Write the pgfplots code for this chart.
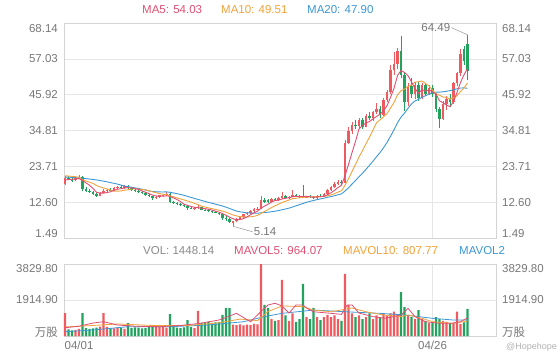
\documentclass[border=0pt]{standalone}
\usepackage{fontspec}
\setmainfont{Liberation Sans}
\newfontfamily\cjk{Noto Sans CJK SC}
\usepackage{pgfplots}
\usepackage{pgfplotstable}
\pgfplotsset{compat=1.18}
\definecolor{upc}{HTML}{EE5A5F}
\definecolor{dnc}{HTML}{21A35E}
\definecolor{ma5c}{HTML}{DE4F72}
\definecolor{ma10c}{HTML}{F1A23B}
\definecolor{ma20c}{HTML}{3C98D4}
\definecolor{gridc}{HTML}{E6E6E6}
\definecolor{axc}{HTML}{D4D4D4}
\definecolor{tickc}{HTML}{777777}
\definecolor{volc}{HTML}{8A8A8A}
\newcommand\fs{\fontsize{11.5}{13}\selectfont}

\pgfplotstableread{
x o h l c v
0 18.2 20.6 17.8 20.0 1220
3 19.4 20.4 19.2 20.1 320
4 20.1 21.0 19.8 20.5 380
10 14.6 15.8 14.4 15.5 500
11 15.5 16.6 15.3 16.2 1220
12 16.2 16.8 15.8 16.5 480
14 16.3 17.2 16.0 16.9 400
15 16.9 17.6 16.6 17.2 450
17 17.0 18.0 16.8 17.6 380
26 13.8 14.6 13.6 14.3 520
27 14.3 14.9 14.0 14.7 480
28 14.7 15.2 14.4 14.9 500
29 14.9 15.6 14.6 15.2 450
37 10.6 11.0 10.3 10.8 420
38 10.8 11.6 10.5 11.1 1330
48 6.2 6.9 5.14 6.7 600
49 6.7 7.6 6.4 7.3 580
50 7.3 8.4 7.0 8.1 620
51 8.1 9.0 7.8 8.8 560
52 8.8 9.6 8.5 9.3 600
53 9.3 10.2 9.0 9.9 580
54 9.9 10.8 9.6 10.4 640
55 10.4 11.0 10.1 10.6 620
56 10.6 14.4 10.4 13.4 3829.8
59 12.8 13.8 12.6 13.5 900
61 13.3 14.2 13.1 13.9 850
62 13.9 15.6 13.7 14.4 2980
64 13.9 14.6 13.6 14.3 800
65 14.3 16.4 14.1 14.8 1200
69 14.0 14.6 13.8 14.4 1000
72 13.9 14.8 13.7 14.6 1000
74 14.4 15.4 14.2 15.1 1000
75 15.1 16.8 14.9 16.3 1120
76 16.3 17.6 16.0 17.2 1000
77 17.2 18.8 16.9 18.3 1100
78 18.3 19.6 17.9 18.8 900
80 18.6 32.0 18.4 31.0 3300
81 31.0 36.0 30.5 34.8 1650
82 34.8 37.5 33.8 36.6 1200
84 36.2 38.8 35.6 38.0 1100
86 36.0 39.8 35.8 39.2 1000
88 38.6 41.0 37.8 40.4 900
89 40.4 43.4 39.8 41.6 1100
91 39.6 45.0 39.2 44.2 1200
92 44.2 47.5 43.5 46.6 1100
93 46.6 55.0 46.0 53.5 1200
94 53.5 59.0 52.0 55.5 1300
95 55.5 60.5 54.0 59.5 1100
98 43.5 49.5 42.5 48.5 1100
100 46.0 50.0 44.5 49.0 900
102 45.0 49.5 44.5 48.8 900
104 46.2 48.8 45.8 48.0 700
108 38.5 44.0 38.0 43.0 800
109 43.0 45.5 41.2 44.5 750
111 43.5 50.0 43.0 49.5 700
112 49.5 53.0 48.5 52.5 1302
113 52.5 60.0 51.8 58.5 650
}\up

\pgfplotstableread{
x o h l c v
1 20.0 20.6 19.4 19.6 350
2 19.6 20.2 19.0 19.4 300
5 20.5 20.8 16.2 16.8 1220
6 16.8 17.2 15.8 16.2 420
7 16.2 16.6 15.4 15.6 380
8 15.6 16.0 14.8 15.1 400
9 15.1 15.4 14.2 14.6 450
13 16.5 17.0 16.0 16.3 420
16 17.2 17.8 16.8 17.0 420
18 17.6 17.9 16.6 16.9 690
19 16.9 17.2 16.2 16.5 420
20 16.5 16.9 15.8 16.1 460
21 16.1 16.4 15.3 15.6 440
22 15.6 16.0 15.0 15.3 400
23 15.3 15.6 14.6 14.9 420
24 14.9 15.2 14.2 14.4 500
25 14.4 14.6 13.2 13.8 560
30 15.2 15.8 12.2 12.7 1170
31 12.7 13.0 12.0 12.3 500
32 12.3 12.6 11.6 12.0 450
33 12.0 12.3 11.3 11.6 420
34 11.6 11.9 11.0 11.3 460
35 11.3 11.6 10.2 10.8 850
36 10.8 11.2 10.4 10.6 480
39 11.1 11.2 10.1 10.3 700
40 10.3 10.6 9.8 10.1 720
41 10.1 10.4 9.6 9.8 760
42 9.8 10.1 9.3 9.5 700
43 9.5 9.9 9.1 9.3 720
44 9.3 9.6 8.6 8.9 740
45 8.9 9.2 7.2 7.8 1120
46 7.8 8.4 6.8 7.3 1490
47 7.3 7.6 6.2 6.6 1490
57 13.4 13.8 12.3 12.6 1650
58 13.2 13.5 12.4 12.8 1490
60 13.5 14.0 13.0 13.3 800
63 14.4 14.8 13.6 13.9 1100
66 14.8 15.2 14.2 14.5 750
67 14.5 14.9 13.9 14.2 900
68 14.2 18.0 13.9 14.0 2770
70 14.4 14.8 14.0 14.2 900
71 14.2 14.6 13.5 13.9 1490
73 14.6 15.0 14.2 14.4 850
79 18.8 19.4 18.0 18.6 800
83 36.6 38.2 35.4 36.2 1000
85 38.0 38.6 35.2 36.0 900
87 39.2 40.6 38.0 38.6 1200
90 41.6 42.4 38.8 39.6 1000
96 59.5 64.2 51.0 52.0 2340
97 52.0 53.0 41.0 43.5 1540
99 48.5 51.0 45.0 46.0 1000
101 49.0 50.0 44.0 45.0 1380
103 48.8 49.6 45.5 46.2 800
105 48.0 49.0 45.2 46.0 750
106 46.0 46.4 40.5 41.5 1010
107 41.5 42.0 35.6 38.5 900
110 44.5 46.0 42.0 43.5 700
114 60.0 61.0 55.0 56.5 720
115 61.5 64.49 50.5 53.15 1448.14
}\dn

\pgfplotsset{
  base/.style={scale only axis, width=432pt, xmin=-0.29, xmax=123.14,
    axis line style={axc}, major tick length=0pt,
    grid style={gridc, line width=0.6pt},
    tick label style={font=\fs, text=tickc}},
  wick/.style={only marks, mark=*, mark size=0pt, mark options={draw opacity=0, fill opacity=0}, forget plot,
    error bars/y dir=plus, error bars/y explicit, error bars/error mark=none,
    error bars/error bar style={line width=0.8pt, draw opacity=1, #1}},
  body/.style={only marks, mark=*, mark size=0pt, mark options={draw opacity=0, fill opacity=0}, forget plot,
    error bars/y dir=plus, error bars/y explicit, error bars/error mark=none,
    error bars/error bar style={line width=2.2pt, draw opacity=1, #1}},
}

\begin{document}
\begin{tikzpicture}
\useasboundingbox (0pt,0pt) rectangle (560pt,360pt);

% ---------- price panel ----------
\begin{axis}[base, at={(64pt,122pt)}, anchor=south west, height=215pt,
  ymin=1.49, ymax=68.14,
  ytick={12.60,23.71,34.81,45.92,57.03},
  yticklabels={12.60,23.71,34.81,45.92,57.03},
  yticklabel style={inner sep=0pt, xshift=-6pt},
  ymajorgrids, xtick={105}, xticklabels={}, xmajorgrids]
\addplot[wick=upc] table[x=x, y=l, y error expr=\thisrow{h}-\thisrow{l}] {\up};
\addplot[body=upc] table[x=x, y=o, y error expr=\thisrow{c}-\thisrow{o}] {\up};
\addplot[wick=dnc] table[x=x, y=l, y error expr=\thisrow{h}-\thisrow{l}] {\dn};
\addplot[body=dnc] table[x=x, y=c, y error expr=\thisrow{o}-\thisrow{c}] {\dn};

\addplot[ma20c, line width=0.9pt] coordinates {(0,20.4)(3,20.2)(6,19.9)(9,19.5)(12,18.9)(15,18.2)(17,17.6)(19,17.23)(20,17.03)(21,16.83)(22,16.63)(23,16.37)(24,16.06)(25,15.91)(26,15.82)(27,15.77)(28,15.76)(29,15.79)(30,15.65)(31,15.46)(32,15.23)(33,15.0)(34,14.72)(35,14.4)(36,14.08)(37,13.74)(38,13.45)(39,13.14)(40,12.84)(41,12.55)(42,12.26)(43,11.98)(44,11.7)(45,11.4)(46,11.05)(47,10.65)(48,10.24)(49,9.84)(50,9.61)(51,9.44)(52,9.3)(53,9.22)(54,9.17)(55,9.16)(56,9.3)(57,9.39)(58,9.48)(59,9.64)(60,9.8)(61,10.0)(62,10.25)(63,10.48)(64,10.75)(65,11.1)(66,11.46)(67,11.84)(68,12.2)(69,12.56)(70,12.86)(71,13.12)(72,13.38)(73,13.61)(74,13.84)(75,14.13)(76,14.32)(77,14.6)(78,14.9)(79,15.16)(80,16.04)(81,17.09)(82,18.2)(83,19.31)(84,20.5)(85,21.56)(86,22.79)(87,24.01)(88,25.33)(89,26.69)(90,27.96)(91,29.48)(92,31.08)(93,33.03)(94,35.05)(95,37.21)(96,38.95)(97,40.21)(98,41.7)(99,43.07)(100,43.97)(101,44.48)(102,45.09)(103,45.59)(104,46.09)(105,46.59)(106,46.7)(107,46.7)(108,46.83)(109,46.97)(110,47.17)(111,47.43)(112,47.73)(113,47.98)(114,48.03)(115,47.9)};
\addplot[ma10c, line width=0.9pt] coordinates {(0,20.8)(1,20.7)(2,20.6)(3,20.5)(4,20.3)(5,19.5)(6,19.15)(7,18.8)(8,18.4)(9,17.79)(10,17.34)(11,17.0)(12,16.71)(13,16.33)(14,15.97)(15,16.01)(16,16.09)(17,16.29)(18,16.47)(19,16.66)(20,16.72)(21,16.66)(22,16.54)(23,16.4)(24,16.15)(25,15.81)(26,15.54)(27,15.25)(28,15.05)(29,14.92)(30,14.58)(31,14.25)(32,13.92)(33,13.59)(34,13.28)(35,12.98)(36,12.61)(37,12.22)(38,11.84)(39,11.35)(40,11.09)(41,10.84)(42,10.59)(43,10.36)(44,10.12)(45,9.82)(46,9.49)(47,9.07)(48,8.63)(49,8.33)(50,8.13)(51,8.03)(52,8.01)(53,8.07)(54,8.22)(55,8.5)(56,9.11)(57,9.71)(58,10.32)(59,10.94)(60,11.46)(61,11.97)(62,12.48)(63,12.88)(64,13.27)(65,13.69)(66,13.8)(67,13.96)(68,14.08)(69,14.17)(70,14.26)(71,14.26)(72,14.28)(73,14.33)(74,14.41)(75,14.56)(76,14.83)(77,15.24)(78,15.72)(79,16.14)(80,17.82)(81,19.91)(82,22.11)(83,24.29)(84,26.58)(85,28.55)(86,30.75)(87,32.78)(88,34.94)(89,37.24)(90,38.1)(91,39.04)(92,40.04)(93,41.77)(94,43.52)(95,45.87)(96,47.15)(97,47.64)(98,48.45)(99,48.89)(100,49.83)(101,49.91)(102,50.13)(103,49.4)(104,48.65)(105,47.3)(106,46.25)(107,45.75)(108,45.2)(109,45.05)(110,44.5)(111,44.95)(112,45.6)(113,46.9)(114,48.0)(115,49.51)};
\addplot[ma5c, line width=0.9pt] coordinates {(0,19.5)(1,19.6)(2,19.7)(3,19.8)(4,19.92)(5,19.28)(6,18.6)(7,17.84)(8,16.84)(9,15.66)(10,15.4)(11,15.4)(12,15.58)(13,15.82)(14,16.28)(15,16.62)(16,16.78)(17,17.0)(18,17.12)(19,17.04)(20,16.82)(21,16.54)(22,16.08)(23,15.68)(24,15.26)(25,14.8)(26,14.54)(27,14.42)(28,14.42)(29,14.58)(30,14.36)(31,13.96)(32,13.42)(33,12.76)(34,11.98)(35,11.6)(36,11.26)(37,11.02)(38,10.92)(39,10.72)(40,10.58)(41,10.42)(42,10.16)(43,9.8)(44,9.52)(45,9.06)(46,8.56)(47,7.98)(48,7.46)(49,7.14)(50,7.2)(51,7.5)(52,8.04)(53,8.68)(54,9.3)(55,9.8)(56,10.72)(57,11.38)(58,11.96)(59,12.58)(60,13.12)(61,13.22)(62,13.58)(63,13.8)(64,13.96)(65,14.26)(66,14.38)(67,14.34)(68,14.36)(69,14.38)(70,14.26)(71,14.14)(72,14.22)(73,14.3)(74,14.44)(75,14.86)(76,15.52)(77,16.26)(78,17.14)(79,17.84)(80,20.78)(81,24.3)(82,27.96)(83,31.44)(84,35.32)(85,36.32)(86,37.2)(87,37.6)(88,38.44)(89,39.16)(90,39.88)(91,40.88)(92,42.48)(93,45.1)(94,47.88)(95,51.86)(96,53.42)(97,52.8)(98,51.8)(99,49.9)(100,47.8)(101,46.4)(102,47.46)(103,47.0)(104,47.4)(105,46.8)(106,46.1)(107,44.04)(108,43.4)(109,42.7)(110,42.2)(111,43.8)(112,46.6)(113,49.7)(114,52.1)(115,54.03)};

\draw[tickc!80, line width=0.5pt] (axis cs:115,64.49) -- (axis cs:110.4,66.7)
  node[anchor=east, inner sep=1pt, font=\fs, text=tickc] {64.49};
\draw[tickc!80, line width=0.5pt] (axis cs:48,5.14) -- (axis cs:53.6,3.4)
  node[anchor=west, inner sep=1pt, font=\fs, text=tickc] {5.14};
\end{axis}

% right-side price labels
\begin{axis}[base, at={(64pt,122pt)}, anchor=south west, height=215pt,
  ymin=1.49, ymax=68.14, axis x line=none, axis y line*=right,
  y axis line style={draw=none},
  ytick={12.60,23.71,34.81,45.92,57.03},
  yticklabels={12.60,23.71,34.81,45.92,57.03},
  yticklabel style={inner sep=0pt, xshift=6pt}]
\end{axis}

% ---------- volume panel ----------
\begin{axis}[base, at={(64pt,24pt)}, anchor=south west, height=72pt,
  ymin=0, ymax=3829.8,
  ytick={1914.9}, yticklabels={1914.90},
  yticklabel style={inner sep=0pt, xshift=-6pt},
  ymajorgrids, xtick={105}, xticklabels={04/26}, xmajorgrids,
  extra x ticks={4}, extra x tick labels={04/01},
  extra x tick style={grid=none},
  xticklabel style={inner sep=0pt, yshift=-5pt}]
\addplot[ybar, bar width=2.2pt, bar shift=0pt, fill=upc, draw=none, forget plot] table[x=x, y=v] {\up};
\addplot[ybar, bar width=2.2pt, bar shift=0pt, fill=dnc, draw=none, forget plot] table[x=x, y=v] {\dn};
\addplot[ma20c, line width=0.8pt] coordinates {(0,230)(8,320)(18,495)(30,495)(41,585)(51,760)(57,1030)(62,1205)(71,1380)(80,1290)(90,1205)(97,1120)(105,940)(111,850)(115,850)};
\addplot[ma10c, line width=0.8pt] coordinates {(0,480)(8,560)(15,640)(25,560)(35,560)(44,700)(50,900)(55,820)(58,1300)(62,1600)(68,1560)(71,1380)(76,1290)(82,1490)(86,1290)(91,1120)(96,1030)(98,1120)(102,940)(105,760)(110.5,675)(114,760)(115,807.77)};
\addplot[ma5c, line width=0.8pt] coordinates {(0,440)(4,520)(8,690)(11,760)(15,585)(20,520)(27,495)(33,560)(38.6,675)(44,850)(49,1205)(53,760)(56,1300)(58,1650)(60,1740)(62,1600)(64,1220)(66,1650)(68,1650)(69,1490)(71,1290)(76,1205)(79,1150)(80.6,1650)(82,1650)(84,1220)(88,1030)(91.4,940)(96,1120)(98,1470)(100,1030)(103,760)(107,675)(110.5,675)(113,760)(115,964.07)};
\end{axis}

\begin{axis}[base, at={(64pt,24pt)}, anchor=south west, height=72pt,
  ymin=0, ymax=3829.8, axis x line=none, axis y line*=right,
  y axis line style={draw=none},
  ytick={1914.9}, yticklabels={1914.90},
  yticklabel style={inner sep=0pt, xshift=6pt}]
\end{axis}

% extreme tick labels
\begin{scope}[every node/.style={inner sep=0pt, font=\fs, text=tickc}]
\node[anchor=east] at (58pt,331pt) {68.14};
\node[anchor=west] at (502pt,331pt) {68.14};
\node[anchor=east] at (58pt,126.7pt) {1.49};
\node[anchor=west] at (502pt,126.7pt) {1.49};
\node[anchor=east] at (58pt,91pt) {3829.80};
\node[anchor=west] at (502pt,91pt) {3829.80};
\node[anchor=east] at (58pt,28pt) {\cjk 万股};
\node[anchor=west] at (502pt,28pt) {\cjk 万股};
\end{scope}

% legends
\begin{scope}[every node/.style={inner sep=0pt, anchor=west, font=\fs}]
\node[text=ma5c] at (142pt,350.5pt) {MA5: 54.03};
\node[text=ma10c] at (221pt,350.5pt) {MA10: 49.51};
\node[text=ma20c] at (307pt,350.5pt) {MA20: 47.90};
\node[text=volc] at (143pt,109.5pt) {VOL: 1448.14};
\node[text=ma5c] at (234pt,109.5pt) {MAVOL5: 964.07};
\node[text=ma10c] at (343pt,109.5pt) {MAVOL10: 807.77};
\node[text=ma20c] at (459pt,109.5pt) {MAVOL2};
\end{scope}
\node[anchor=east, inner sep=0pt, font=\fontsize{9}{10}\selectfont, text=black!30] at (557pt,13pt) {@Hopehope};
\end{tikzpicture}
\end{document}
